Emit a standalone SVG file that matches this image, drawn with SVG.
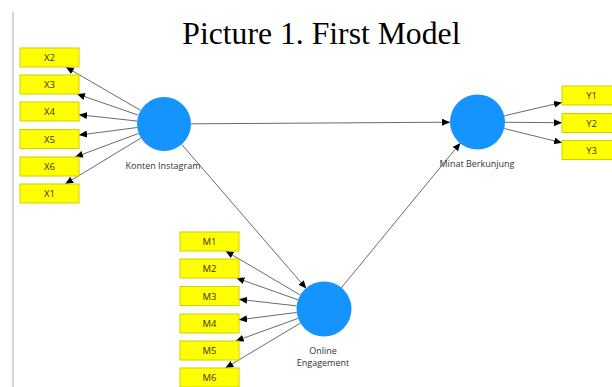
<svg xmlns="http://www.w3.org/2000/svg" width="612" height="387" viewBox="0 0 612 387">
<defs>
<marker id="ah" markerUnits="userSpaceOnUse" markerWidth="9" markerHeight="8" refX="8" refY="3.5" orient="auto"><path d="M0,0 L8,3.5 L0,7 z" fill="#000"/></marker>
<style>
.box{fill:#FFFF00;stroke:#D0D000;stroke-width:1}
.bt{font-family:"Open Sans","DejaVu Sans",sans-serif;font-size:9.5px;fill:#333;text-anchor:middle}
.lv{fill:#1593FE}
.lb{font-family:"Open Sans","DejaVu Sans",sans-serif;font-size:9px;fill:#333;text-anchor:middle}
.c line{stroke:#444;stroke-width:0.8;marker-end:url(#ah)}
</style>
</defs>
<rect width="612" height="387" fill="#fff"/>
<line x1="13" y1="12" x2="13" y2="387" stroke="#c8c8c8" stroke-width="1.5"/>
<text x="182.3" y="44" font-family="'Liberation Serif',serif" font-size="31.7" fill="#000">Picture 1. First Model</text>
<g class="c" id="connectors">
<line x1="140.65" y1="110.44" x2="65.9" y2="67"/>
<line x1="138.47" y1="115.19" x2="77" y2="94"/>
<line x1="137.16" y1="121.07" x2="79" y2="114.7"/>
<line x1="137.23" y1="127.51" x2="79" y2="135.1"/>
<line x1="138.69" y1="133.4" x2="75.1" y2="157"/>
<line x1="140.92" y1="138.01" x2="65.2" y2="184"/>
<line x1="300.31" y1="295.04" x2="225.6" y2="251"/>
<line x1="298.07" y1="299.83" x2="236.4" y2="278"/>
<line x1="296.68" y1="305.9" x2="239" y2="299.35"/>
<line x1="296.72" y1="312.45" x2="239" y2="319.8"/>
<line x1="298.15" y1="318.37" x2="235.7" y2="341"/>
<line x1="300.4" y1="323.12" x2="225.4" y2="368"/>
<line x1="504.29" y1="115.77" x2="562" y2="102.4"/>
<line x1="505" y1="122.24" x2="562" y2="122.74"/>
<line x1="504.21" y1="128.56" x2="562" y2="142.75"/>
<line x1="191" y1="123.83" x2="450" y2="122.2"/>
<line x1="181.7" y1="144.4" x2="306.3" y2="288.6"/>
<line x1="341.1" y1="288.1" x2="460.4" y2="142.9"/>
</g>
<g id="konten"><circle class="lv" cx="164" cy="124" r="27"/><text class="lb" x="163" y="169">Konten Instagram</text></g>
<g id="online"><circle class="lv" cx="324" cy="309" r="27.5"/><text class="lb" x="323" y="354">Online</text><text class="lb" x="323" y="366">Engagement</text></g>
<g id="minat"><circle class="lv" cx="477.5" cy="122" r="27.5"/><text class="lb" x="477" y="167">Minat Berkunjung</text></g>
<g id="X2"><rect class="box" x="20" y="48" width="59" height="19"/><text class="bt" x="49.5" y="61">X2</text></g>
<g id="X3"><rect class="box" x="20" y="75" width="59" height="19"/><text class="bt" x="49.5" y="88">X3</text></g>
<g id="X4"><rect class="box" x="20" y="102" width="59" height="19"/><text class="bt" x="49.5" y="115">X4</text></g>
<g id="X5"><rect class="box" x="20" y="129.5" width="59" height="19"/><text class="bt" x="49.5" y="142.5">X5</text></g>
<g id="X6"><rect class="box" x="20" y="157" width="59" height="19"/><text class="bt" x="49.5" y="170">X6</text></g>
<g id="X1"><rect class="box" x="20" y="184" width="59" height="19"/><text class="bt" x="49.5" y="197">X1</text></g>
<g id="M1"><rect class="box" x="180" y="232" width="59" height="19"/><text class="bt" x="209.5" y="245">M1</text></g>
<g id="M2"><rect class="box" x="180" y="259" width="59" height="19"/><text class="bt" x="209.5" y="272">M2</text></g>
<g id="M3"><rect class="box" x="180" y="286.5" width="59" height="19"/><text class="bt" x="209.5" y="299.5">M3</text></g>
<g id="M4"><rect class="box" x="180" y="314" width="59" height="19"/><text class="bt" x="209.5" y="327">M4</text></g>
<g id="M5"><rect class="box" x="180" y="341" width="59" height="19"/><text class="bt" x="209.5" y="354">M5</text></g>
<g id="M6"><rect class="box" x="180" y="368" width="59" height="19"/><text class="bt" x="209.5" y="381">M6</text></g>
<g id="Y1"><rect class="box" x="562" y="86" width="59" height="19"/><text class="bt" x="591.5" y="99">Y1</text></g>
<g id="Y2"><rect class="box" x="562" y="113.5" width="59" height="19"/><text class="bt" x="591.5" y="126.5">Y2</text></g>
<g id="Y3"><rect class="box" x="562" y="140.5" width="59" height="19"/><text class="bt" x="591.5" y="153.5">Y3</text></g>
</svg>
